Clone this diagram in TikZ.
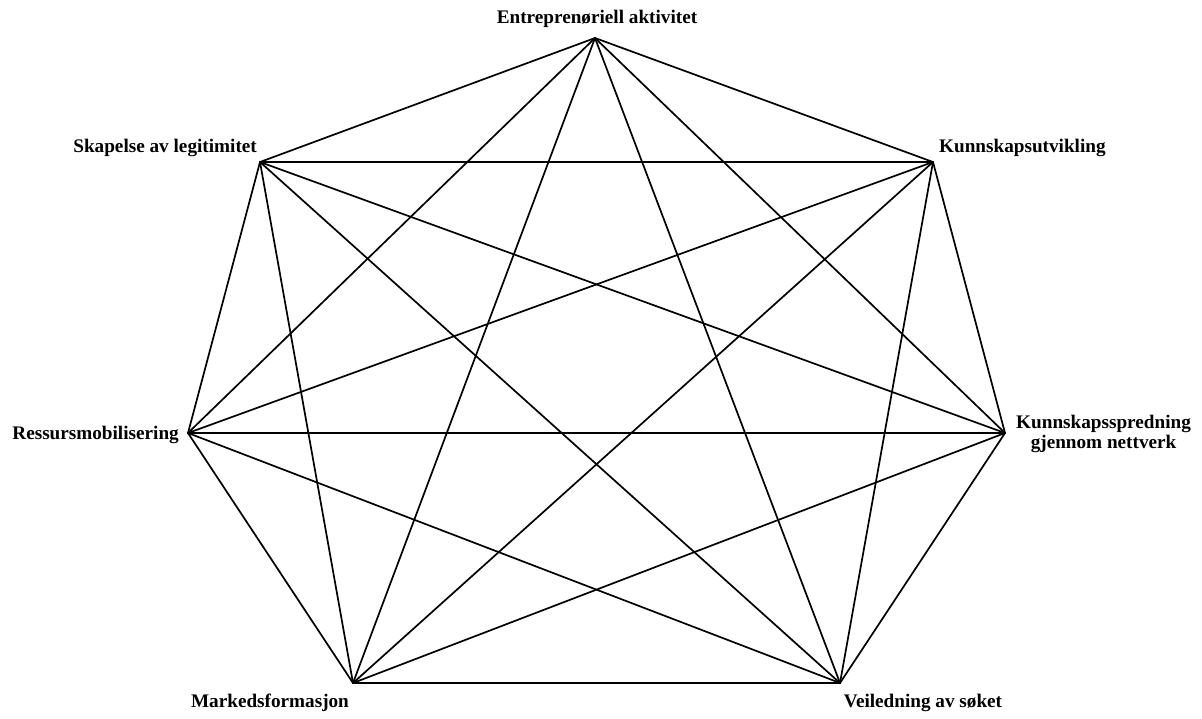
\documentclass[tikz,border=0pt]{standalone}
\usepackage{fontspec}
\setmainfont{Liberation Serif}
\begin{document}
\begin{tikzpicture}[x=1pt,y=-1pt,
  lbl/.style={font=\fontsize{19.2}{19.5}\selectfont\bfseries, inner sep=0pt, align=center},
  edge/.style={line width=1.7pt, line cap=round, line join=round}]
\useasboundingbox (0,0) rectangle (1202,718);
\coordinate (A) at (595,38);
\coordinate (B) at (933,162);
\coordinate (C) at (1005,433);
\coordinate (D) at (840,683);
\coordinate (E) at (353,683);
\coordinate (F) at (188,433);
\coordinate (G) at (260,162);
\node[lbl] (lA) at (597,19) {Entreprenøriell aktivitet};
\node[lbl, anchor=east] (lG) at (257,148) {Skapelse av legitimitet};
\node[lbl, anchor=west] (lB) at (939,148) {Kunnskapsutvikling};
\node[lbl, anchor=east] (lF) at (179,435) {Ressursmobilisering};
\node[lbl, anchor=west] (lC) at (1016,434) {Kunnskapsspredning\\gjennom nettverk};
\node[lbl] (lE) at (270,703) {Markedsformasjon};
\node[lbl] (lD) at (923,703) {Veiledning av søket};
\foreach \p/\q in {A/B,A/C,A/D,A/E,A/F,A/G,B/C,B/D,B/E,B/F,B/G,C/D,C/E,C/F,C/G,D/E,D/F,D/G,E/F,E/G,F/G}
  \draw[edge] (\p) -- (\q);
\end{tikzpicture}
\end{document}
